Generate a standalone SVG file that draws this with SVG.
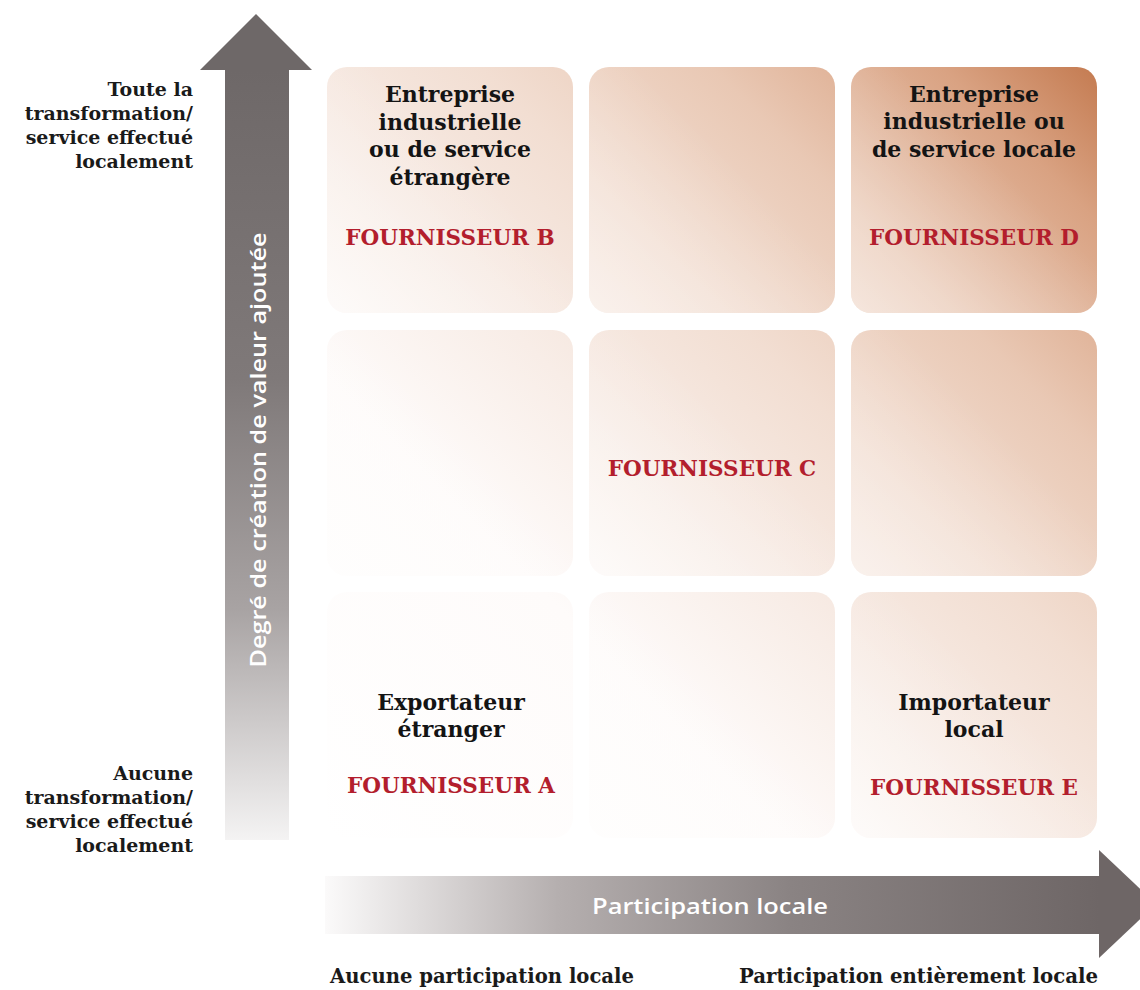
<svg xmlns="http://www.w3.org/2000/svg" width="1140" height="990" viewBox="0 0 1140 990">
<defs>
<style>
.lbl{font-family:"DejaVu Serif","Liberation Serif",serif;font-weight:bold;font-size:19px;fill:#1a1a1a;text-anchor:end}
.cell{font-family:"DejaVu Serif","Liberation Serif",serif;font-weight:bold;font-size:22px;fill:#141414;text-anchor:middle}
.sup{font-family:"DejaVu Serif","Liberation Serif",serif;font-weight:bold;font-size:21.5px;fill:#b31e2d;text-anchor:middle}
.bot{font-family:"DejaVu Serif","Liberation Serif",serif;font-weight:bold;font-size:20px;fill:#1a1a1a}
.axis{font-family:"Open Sans","Noto Sans",sans-serif;font-weight:600;font-size:22px;fill:#ffffff;text-anchor:middle}
.cellbg{fill:url(#grid)}
.cellov{fill:url(#ov)}
</style>
<linearGradient id="grid" gradientUnits="userSpaceOnUse" x1="327" y1="838" x2="1097" y2="67">
<stop offset="0" stop-color="#ffffff"/>
<stop offset="0.3" stop-color="#fefbfa"/>
<stop offset="0.45" stop-color="#f8ede7"/>
<stop offset="0.6" stop-color="#f2ded2"/>
<stop offset="0.75" stop-color="#e9c8b4"/>
<stop offset="0.9" stop-color="#d9a282"/>
<stop offset="1" stop-color="#c47b51"/>
</linearGradient>
<linearGradient id="ov" x1="0" y1="1" x2="1" y2="0">
<stop offset="0" stop-color="#ffffff" stop-opacity="0.45"/>
<stop offset="0.6" stop-color="#ffffff" stop-opacity="0"/>
</linearGradient>
<linearGradient id="vgrad" gradientUnits="userSpaceOnUse" x1="0" y1="70" x2="0" y2="840">
<stop offset="0" stop-color="#6e6868"/>
<stop offset="0.4" stop-color="#7f7979"/>
<stop offset="0.7" stop-color="#a8a3a3"/>
<stop offset="1" stop-color="#f4f3f3"/>
</linearGradient>
<linearGradient id="hgrad" gradientUnits="userSpaceOnUse" x1="325" y1="0" x2="1100" y2="0">
<stop offset="0" stop-color="#fbfafa"/>
<stop offset="0.3" stop-color="#b5afaf"/>
<stop offset="0.6" stop-color="#8a8383"/>
<stop offset="1" stop-color="#6e6666"/>
</linearGradient>
</defs>
<rect width="1140" height="990" fill="#ffffff"/>

<g id="connectors">
<g id="axis-y">
<rect x="225" y="69" width="64" height="771" fill="url(#vgrad)"/>
<polygon points="200,70 312,70 256,14" fill="#6e6868"/>
</g>
<g id="axis-x">
<rect x="325" y="876" width="775" height="58" fill="url(#hgrad)"/>
<polygon points="1099,850 1099,958 1156,904" fill="#6e6666"/>
</g>
</g>

<g id="axis-y-label">
<text class="axis" transform="translate(266,450) rotate(-90)" textLength="435" lengthAdjust="spacingAndGlyphs">Degré de création de valeur ajoutée</text>
</g>
<g id="axis-x-label">
<text class="axis" x="710" y="914" textLength="236" lengthAdjust="spacingAndGlyphs">Participation locale</text>
</g>

<g id="label-top">
<text class="lbl" x="193" y="96">Toute la</text>
<text class="lbl" x="193" y="120">transformation/</text>
<text class="lbl" x="193" y="144">service effectué</text>
<text class="lbl" x="193" y="168">localement</text>
</g>
<g id="label-bottom">
<text class="lbl" x="193" y="780">Aucune</text>
<text class="lbl" x="193" y="804">transformation/</text>
<text class="lbl" x="193" y="828">service effectué</text>
<text class="lbl" x="193" y="852">localement</text>
</g>
<g id="label-x-left">
<text class="bot" x="330" y="983" textLength="304" lengthAdjust="spacingAndGlyphs">Aucune participation locale</text>
</g>
<g id="label-x-right">
<text class="bot" x="739" y="983" textLength="359" lengthAdjust="spacingAndGlyphs">Participation entièrement locale</text>
</g>

<g id="cell-b">
<rect class="cellbg" x="327" y="67" width="246" height="246" rx="20"/>
<rect class="cellov" x="327" y="67" width="246" height="246" rx="20"/>
<text class="cell" x="450" y="102">Entreprise</text>
<text class="cell" x="450" y="130">industrielle</text>
<text class="cell" x="450" y="157">ou de service</text>
<text class="cell" x="450" y="185">étrangère</text>
<text class="sup" x="450" y="245">FOURNISSEUR B</text>
</g>
<g id="cell-top-mid">
<rect class="cellbg" x="589" y="67" width="246" height="246" rx="20"/>
<rect class="cellov" x="589" y="67" width="246" height="246" rx="20"/>
</g>
<g id="cell-d">
<rect class="cellbg" x="851" y="67" width="246" height="246" rx="20"/>
<rect class="cellov" x="851" y="67" width="246" height="246" rx="20"/>
<text class="cell" x="974" y="102">Entreprise</text>
<text class="cell" x="974" y="129">industrielle ou</text>
<text class="cell" x="974" y="157">de service locale</text>
<text class="sup" x="974" y="245">FOURNISSEUR D</text>
</g>
<g id="cell-mid-left">
<rect class="cellbg" x="327" y="330" width="246" height="246" rx="20"/>
<rect class="cellov" x="327" y="330" width="246" height="246" rx="20"/>
</g>
<g id="cell-c">
<rect class="cellbg" x="589" y="330" width="246" height="246" rx="20"/>
<rect class="cellov" x="589" y="330" width="246" height="246" rx="20"/>
<text class="sup" x="712" y="476">FOURNISSEUR C</text>
</g>
<g id="cell-mid-right">
<rect class="cellbg" x="851" y="330" width="246" height="246" rx="20"/>
<rect class="cellov" x="851" y="330" width="246" height="246" rx="20"/>
</g>
<g id="cell-a">
<rect class="cellbg" x="327" y="592" width="246" height="246" rx="20"/>
<rect class="cellov" x="327" y="592" width="246" height="246" rx="20"/>
<text class="cell" x="451" y="710">Exportateur</text>
<text class="cell" x="451" y="737">étranger</text>
<text class="sup" x="451" y="793">FOURNISSEUR A</text>
</g>
<g id="cell-bottom-mid">
<rect class="cellbg" x="589" y="592" width="246" height="246" rx="20"/>
<rect class="cellov" x="589" y="592" width="246" height="246" rx="20"/>
</g>
<g id="cell-e">
<rect class="cellbg" x="851" y="592" width="246" height="246" rx="20"/>
<rect class="cellov" x="851" y="592" width="246" height="246" rx="20"/>
<text class="cell" x="974" y="710">Importateur</text>
<text class="cell" x="974" y="737">local</text>
<text class="sup" x="974" y="795">FOURNISSEUR E</text>
</g>
</svg>
